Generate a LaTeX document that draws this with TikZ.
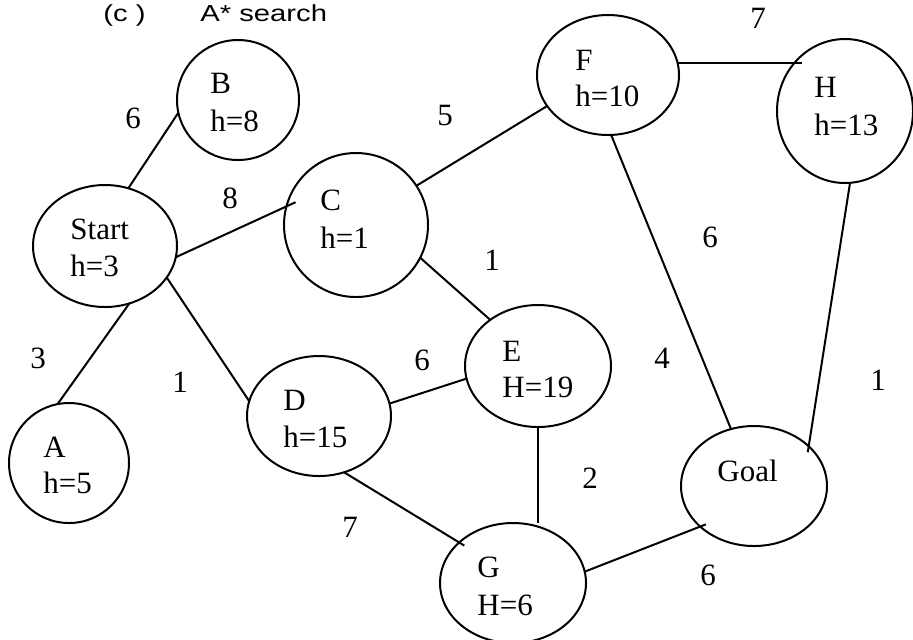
\documentclass[tikz,border=0pt]{standalone}
\usepackage{graphicx}
\usepackage{fontspec}
\setmainfont{Liberation Serif}
\newfontfamily\titlefont{Liberation Sans}
\usetikzlibrary{shapes.geometric}

\begin{document}
\begin{tikzpicture}[x=0.5pt,y=-0.5pt,
  state/.style={draw, ellipse, line width=1pt, inner sep=0pt, outer sep=0pt},
  txt/.style={anchor=base west, inner sep=0pt, font=\fontsize{15.5}{18.5}\selectfont},
  cost/.style={inner sep=0pt, font=\fontsize{15.5}{18.5}\selectfont},
  heading/.style={anchor=base west, inner sep=0pt, font=\titlefont\fontsize{11.6}{13}\selectfont},
  edge/.style={line width=1pt},
  into/.style={edge, shorten >=-3pt}]
\useasboundingbox (0,0) rectangle (913,639);

% title (wide sans lettering)
\node[heading] (lab) at (103,21) {\scalebox{1.26}[1]{(c )}};
\node[heading] (ttl) at (200,21) {\scalebox{1.26}[1]{A* search}};

% states
\node[state, minimum width=61pt, minimum height=60pt] (B) at (238,100) {};
\node[state, minimum width=72pt, minimum height=61pt] (S) at (105,246) {};
\node[state, minimum width=72pt, minimum height=72pt] (C) at (356,225) {};
\node[state, minimum width=71pt, minimum height=60pt] (F) at (608,75) {};
\node[state, minimum width=68pt, minimum height=72pt] (H) at (845,111) {};
\node[state, minimum width=60pt, minimum height=60pt] (A) at (69,463) {};
\node[state, minimum width=72pt, minimum height=60pt] (D) at (319,416) {};
\node[state, minimum width=73pt, minimum height=61pt] (E) at (538,366) {};
\node[state, minimum width=73pt, minimum height=60pt] (Goal) at (754,486) {};
\node[state, minimum width=73pt, minimum height=60pt] (G) at (513,583) {};

% state texts
\node[txt] (Bn) at (210,93) {B};       \node[txt] (Bh) at (210,131) {h=8};
\node[txt] (Sn) at (70,239) {Start};   \node[txt] (Sh) at (70,276) {h=3};
\node[txt] (Cn) at (320,210) {C};      \node[txt] (Ch) at (320,248) {h=1};
\node[txt] (Fn) at (575,70) {F};       \node[txt] (Fh) at (575,106) {h=10};
\node[txt] (Hn) at (814,97) {H};       \node[txt] (Hh) at (814,135) {h=13};
\node[txt] (An) at (43,457) {A};       \node[txt] (Ah) at (43,493) {h=5};
\node[txt] (Dn) at (283,410) {D};      \node[txt] (Dh) at (283,447) {h=15};
\node[txt] (En) at (502,361) {E};      \node[txt] (Eh) at (502,397) {H=19};
\node[txt] (Gn) at (717,481) {Goal};
\node[txt] (Gg) at (477,577) {G};      \node[txt] (Gh) at (477,615) {H=6};

% connections
\draw[edge] (S.68) -- (B.192);
\draw[edge, shorten >=-5pt] (S.-9) -- (C.165);
\draw[edge] (S.-67) -- (A.101);
\draw[edge] (S.-27) -- (D.168);
\draw[edge] (C.33) -- (F.207);
\draw[edge] (C.-27) -- (E.136);
\draw[edge] (F.-87) -- (Goal.112);
\draw[edge] (F.10.6) -- (F.10.6 -| H.128);
\draw[into] (H.-86) -- (Goal.36);
\draw[edge] (D.10) -- (E.190);
\draw[into] (D.-66) -- (G.143);
\draw[edge] (E.south) -- (E.south |- G.north);
\draw[into] (G.9) -- (Goal.217);

% path costs
\node[cost] (wSB) at (133,118) {6};
\node[cost] (wSC) at (230,198) {8};
\node[cost] (wCF) at (445,115) {5};
\node[cost] (wFH) at (758,18) {7};
\node[cost] (wCE) at (492,260) {1};
\node[cost] (wFG) at (710,237) {6};
\node[cost] (wSA) at (38,358) {3};
\node[cost] (wSD) at (180,382) {1};
\node[cost] (wDE) at (422,360) {6};
\node[cost] (wEG) at (662,358) {4};
\node[cost] (wHG) at (878,380) {1};
\node[cost] (wGE) at (590,478) {2};
\node[cost] (wDG) at (350,527) {7};
\node[cost] (wGG) at (708,575) {6};
\end{tikzpicture}
\end{document}
